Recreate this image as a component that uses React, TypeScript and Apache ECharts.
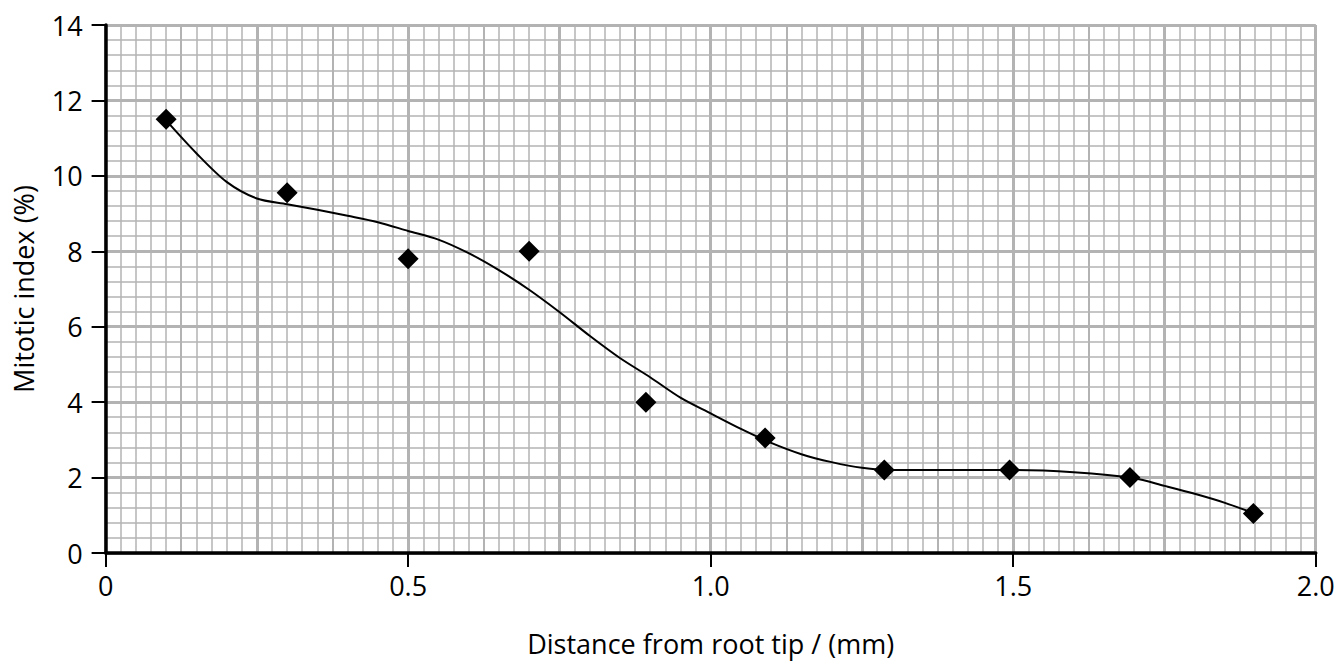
import React, { useEffect, useRef } from "react";
import * as echarts from "echarts";

const distances = [0.1, 0.3, 0.5, 0.7, 0.893, 1.09, 1.287, 1.494, 1.693, 1.897];
const mitoticIndex = [11.5, 9.55, 7.8, 8.0, 4.0, 3.05, 2.2, 2.2, 2.0, 1.05];

const curveX = [0.1, 0.15, 0.2, 0.25, 0.3, 0.35, 0.4, 0.45, 0.5, 0.55, 0.6, 0.65, 0.7, 0.75, 0.8, 0.85, 0.9, 0.95, 1.0, 1.05, 1.1, 1.15, 1.2, 1.25, 1.3, 1.4, 1.5, 1.6, 1.7, 1.75, 1.8, 1.85, 1.897];
const curveY = [11.47, 10.6, 9.84, 9.4, 9.25, 9.1, 8.94, 8.77, 8.54, 8.31, 7.95, 7.5, 6.98, 6.39, 5.76, 5.17, 4.66, 4.12, 3.7, 3.29, 2.92, 2.62, 2.41, 2.26, 2.2, 2.2, 2.2, 2.14, 1.98, 1.78, 1.57, 1.33, 1.06];

const xTitle = "Distance from root tip / (mm)";
const yTitle = "Mitotic index (%)";

const FONT = "Open Sans";
const GRID_COLOR = "#b3b3b3";

function gridAxis(min: number, max: number, interval: number, width: number) {
  return {
    type: "value",
    min,
    max,
    interval,
    show: true,
    axisLine: { show: false },
    axisTick: { show: false },
    axisLabel: { show: false },
    splitLine: { show: true, lineStyle: { color: GRID_COLOR, width } },
  };
}

export default function App() {
  const ref = useRef<HTMLDivElement>(null);
  useEffect(() => {
    if (!ref.current) return;
    const chart = echarts.init(ref.current, undefined, { renderer: "svg" });
    const option: any = {
      animation: false,
      backgroundColor: "#ffffff",
      grid: { left: 105.6, right: 22.3, top: 25, bottom: 107 },
      xAxis: [
        {
          type: "value",
          min: 0,
          max: 2,
          interval: 0.5,
          name: xTitle,
          nameLocation: "middle",
          nameGap: 77,
          nameTextStyle: { fontFamily: FONT, fontSize: 27, color: "#000" },
          axisLine: { show: true, onZero: false, lineStyle: { color: "#000", width: 3.5 } },
          axisTick: { show: true, length: 14, lineStyle: { color: "#000", width: 2 } },
          axisLabel: {
            fontFamily: FONT,
            fontSize: 27,
            color: "#000",
            margin: 19,
            formatter: (v: number) => (v === 0 ? "0" : v.toFixed(1)),
          },
          splitLine: { show: false },
          z: 5,
        },
        gridAxis(0, 2, 0.025, 1.5),
        gridAxis(0, 2, 0.125, 2),
        gridAxis(0, 2, 0.25, 3),
      ],
      yAxis: [
        {
          type: "value",
          min: 0,
          max: 14,
          interval: 2,
          name: yTitle,
          nameLocation: "middle",
          nameGap: 69,
          nameTextStyle: { fontFamily: FONT, fontSize: 27, color: "#000" },
          axisLine: { show: true, onZero: false, lineStyle: { color: "#000", width: 3.5 } },
          axisTick: { show: true, length: 14, lineStyle: { color: "#000", width: 2 } },
          axisLabel: { fontFamily: FONT, fontSize: 27, color: "#000", margin: 23 },
          splitLine: { show: false },
          z: 5,
        },
        gridAxis(0, 14, 0.4, 1.5),
        gridAxis(0, 14, 2, 3),
      ],
      series: [
        {
          type: "line",
          xAxisIndex: 0,
          yAxisIndex: 0,
          data: curveX.map((x, i) => [x, curveY[i]]),
          smooth: 0.3,
          showSymbol: false,
          lineStyle: { color: "#000", width: 2 },
          z: 3,
        },
        {
          type: "scatter",
          xAxisIndex: 0,
          yAxisIndex: 0,
          data: distances.map((x, i) => [x, mitoticIndex[i]]),
          symbol: "diamond",
          symbolSize: 21,
          itemStyle: { color: "#000", opacity: 1 },
          z: 4,
        },
      ],
    };
    chart.setOption(option);
    return () => chart.dispose();
  }, []);
  return (
    <div
      ref={ref}
      style={{ position: "absolute", left: 0, top: 0, width: 1338, height: 662, background: "#fff" }}
    />
  );
}
